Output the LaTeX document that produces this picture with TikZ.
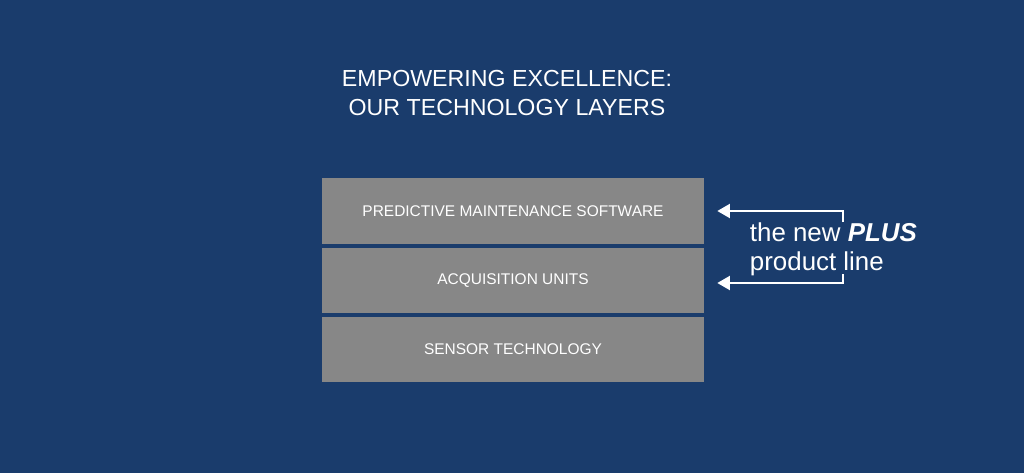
\documentclass[tikz,border=0pt]{standalone}
\usepackage{fontspec}
\setmainfont{Liberation Sans}
\usetikzlibrary{arrows.meta}
\definecolor{bgblue}{HTML}{1A3C6C}
\definecolor{layergray}{HTML}{878787}
\tikzset{layer/.style={fill=layergray, text=white, minimum width=9.55cm,
                       minimum height=1.625cm, inner sep=0pt, font=\fontsize{11}{13}\selectfont},
         plusarrow/.style={white, line width=1.4pt, -{Triangle[width=10pt,length=9pt]}}}
\begin{document}
\begin{tikzpicture}[x=0.025cm,y=-0.025cm]
            \fill [bgblue] (0,0) rectangle (1024,473);
            \useasboundingbox (0,0) rectangle (1024,473);
            \node [text=white, align=center, font=\fontsize{16.5}{20.5}\selectfont] (title) at (507,93)
                  {EMPOWERING EXCELLENCE:\\OUR TECHNOLOGY LAYERS};
            \node [layer] (software) at (513,211) {PREDICTIVE MAINTENANCE SOFTWARE};
            \node [layer] (units) at (513,280.5) {ACQUISITION UNITS};
            \node [layer] (sensor) at (513,349.5) {SENSOR TECHNOLOGY};
            \node [text=white, anchor=west, align=left, font=\fontsize{18.4}{21}\selectfont] (plus) at (745,249.5)
                  {the new \textbf{\textit{PLUS}}\\product line};
            \coordinate (t1) at (843,222);
            \coordinate (c1) at (843,211);
            \coordinate (t2) at (843,274);
            \coordinate (c2) at (843,283);
            \draw [plusarrow] (t1) -- (c1) -- ([xshift=13*0.025cm]software.east);
            \draw [plusarrow] (t2) -- (c2) -- ([xshift=13*0.025cm,yshift=-2.5*0.025cm]units.east);
        \end{tikzpicture}
\end{document}
